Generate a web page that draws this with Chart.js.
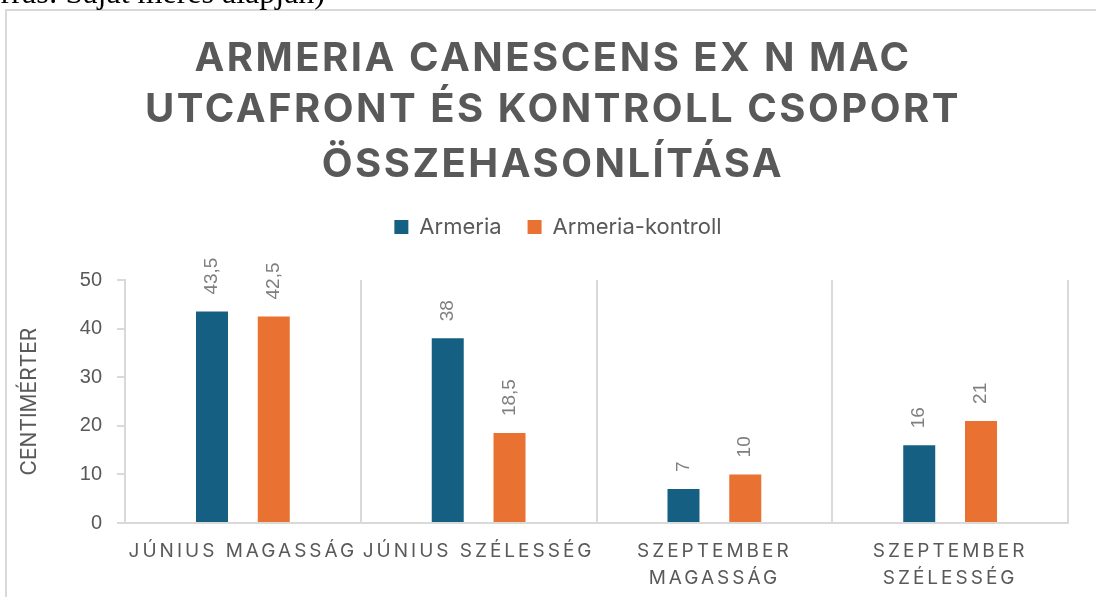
<!DOCTYPE html>
<html>
<head>
<meta charset="utf-8">
<script src="https://cdn.jsdelivr.net/npm/chart.js@4"></script>
<style>
  html, body { margin: 0; padding: 0; background: #fff; }
  #wrap { position: relative; width: 1096px; height: 597px; overflow: hidden; }
  #myChart { position: absolute; left: 0; top: 0; }
  #forras { position: absolute; right: 771px; top: -24px; font: 32px/32px "Liberation Serif"; color: #000; white-space: nowrap; }
</style>
</head>
<body>
<div id="wrap">
  <canvas id="myChart" width="1096" height="597"></canvas>
  <div id="forras">(Forrás: Saját mérés alapján)</div>
</div>
<script>
const categories = ['JÚNIUS MAGASSÁG', 'JÚNIUS SZÉLESSÉG', ['SZEPTEMBER', 'MAGASSÁG'], ['SZEPTEMBER', 'SZÉLESSÉG']];
const armeria = [43.5, 38, 7, 16];
const armeriaKontroll = [42.5, 18.5, 10, 21];
const seriesNames = ['Armeria', 'Armeria-kontroll'];
const titleLines = ['ARMERIA CANESCENS EX N MAC', 'UTCAFRONT ÉS KONTROLL CSOPORT', 'ÖSSZEHASONLÍTÁSA'];
const yAxisTitle = 'CENTIMÉRTER';
const yMin = 0, yMax = 50, yStep = 10;

const gray = '#595959';
const lineGray = '#d9d9d9';

// frame around the chart + white background
const framePlugin = {
  id: 'frame',
  beforeDraw(chart) {
    const ctx = chart.ctx;
    ctx.save();
    ctx.fillStyle = '#fff';
    ctx.fillRect(0, 0, chart.width, chart.height);
    ctx.strokeStyle = lineGray;
    ctx.lineWidth = 2;
    ctx.strokeRect(6, 10, chart.width + 20, chart.height + 20);
    ctx.restore();
  }
};

// extra room under the legend
const legendGap = {
  id: 'legendGap',
  beforeInit(chart) {
    const fit = chart.legend.fit;
    chart.legend.fit = function () {
      fit.call(this);
      this.height += 32;
    };
  }
};

// rotated value labels above bars, then letter spacing for the x labels drawn after
const valueLabels = {
  id: 'valueLabels',
  afterDatasetsDraw(chart) {
    const ctx = chart.ctx;
    ctx.save();
    ctx.font = '19px "Liberation Sans"';
    ctx.fillStyle = '#7f7f7f';
    ctx.textAlign = 'left';
    ctx.textBaseline = 'middle';
    chart.data.datasets.forEach((ds, i) => {
      chart.getDatasetMeta(i).data.forEach((bar, j) => {
        ctx.save();
        ctx.translate(bar.x, bar.y - 17);
        ctx.rotate(-Math.PI / 2);
        ctx.fillText(String(ds.data[j]).replace('.', ','), 0, 0);
        ctx.restore();
      });
    });
    ctx.restore();
    ctx.letterSpacing = '3px';
  },
  afterDraw(chart) {
    const ctx = chart.ctx;
    ctx.letterSpacing = '0px';
    ctx.save();
    ctx.font = 'bold 40px Inter';
    ctx.fillStyle = gray;
    ctx.textAlign = 'center';
    ctx.textBaseline = 'alphabetic';
    ctx.letterSpacing = '2.5px';
    const baselines = [71, 122, 177];
    titleLines.forEach((t, i) => ctx.fillText(t, 553, baselines[i]));
    ctx.letterSpacing = '0px';
    ctx.restore();
  }
};

const myChart = new Chart(document.getElementById('myChart'), {
  type: 'bar',
  data: {
    labels: categories,
    datasets: [
      { label: seriesNames[0], data: armeria, backgroundColor: '#156082' },
      { label: seriesNames[1], data: armeriaKontroll, backgroundColor: '#E97132' }
    ]
  },
  options: {
    responsive: false,
    animation: false,
    categoryPercentage: 0.524,
    barPercentage: 0.518,
    layout: { padding: { top: 190, right: 28, bottom: 0, left: 48 } },
    plugins: {
      title: { display: false },
      tooltip: { enabled: false },
      legend: {
        position: 'top',
        labels: {
          boxWidth: 14,
          boxHeight: 14,
          padding: 26,
          color: gray,
          font: { family: 'Inter', size: 22 }
        }
      }
    },
    scales: {
      x: {
        afterFit(scale) { scale.height = 74; },
        grid: { display: true, drawOnChartArea: true, drawTicks: false, color: lineGray, lineWidth: 2, offset: true },
        border: { display: true, color: lineGray, width: 2 },
        ticks: {
          z: 1,
          maxRotation: 0,
          autoSkip: false,
          padding: 15,
          color: gray,
          font: { family: 'Inter', size: 19, lineHeight: 1.4 }
        }
      },
      y: {
        min: yMin,
        max: yMax,
        afterFit(scale) { scale.width = 77; },
        grid: { display: true, drawOnChartArea: false, drawTicks: true, tickLength: 8, color: lineGray, lineWidth: 2 },
        border: { display: true, color: lineGray, width: 2 },
        ticks: {
          stepSize: yStep,
          padding: 15,
          color: gray,
          font: { family: 'Liberation Sans', size: 20 }
        },
        title: {
          display: true,
          text: yAxisTitle,
          color: gray,
          padding: { top: -31, bottom: 0 },
          font: { family: 'Inter', size: 21 }
        }
      }
    }
  },
  plugins: [framePlugin, legendGap, valueLabels]
});
</script>
</body>
</html>
